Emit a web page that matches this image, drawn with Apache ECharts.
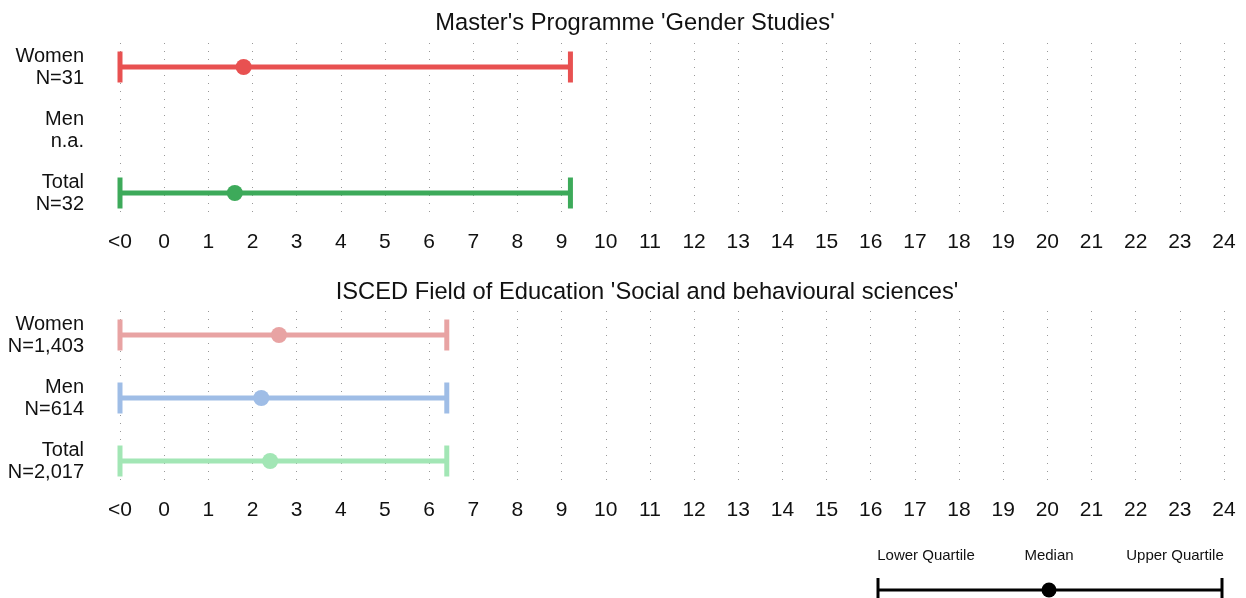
<!DOCTYPE html>
<html>
<head>
<meta charset="utf-8">
<script src="https://cdn.jsdelivr.net/npm/echarts@6/dist/echarts.min.js"></script>
<style>
html,body{margin:0;padding:0;background:#fff;}
#chart{width:1246px;height:598px;}
</style>
</head>
<body>
<div id="chart"></div>
<script>
// ---- data ----
const categories = ['Women', 'Men', 'Total'];
const xTickValues = [-1,0,1,2,3,4,5,6,7,8,9,10,11,12,13,14,15,16,17,18,19,20,21,22,23,24];
const xTickLabels = ['<0','0','1','2','3','4','5','6','7','8','9','10','11','12','13','14','15','16','17','18','19','20','21','22','23','24'];

const panel1Title = "Master's Programme 'Gender Studies'";
const panel1N = ['N=31', 'n.a.', 'N=32'];
const panel1Lower = [-1, null, -1];
const panel1Median = [1.8, null, 1.6];
const panel1Upper = [9.2, null, 9.2];
const panel1Colors = ['#E85151', '#9DBDE6', '#3DAA5A'];

const panel2Title = "ISCED Field of Education 'Social and behavioural sciences'";
const panel2N = ['N=1,403', 'N=614', 'N=2,017'];
const panel2Lower = [-1, -1, -1];
const panel2Median = [2.6, 2.2, 2.4];
const panel2Upper = [6.4, 6.4, 6.4];
const panel2Colors = ['#E8A3A3', '#9FBDE6', '#A2E6B5'];

const legendLabels = ['Lower Quartile', 'Median', 'Upper Quartile'];
// ----------------

const FONT = '"Liberation Sans", Arial, Helvetica, sans-serif';
const chart = echarts.init(document.getElementById('chart'));

const L = 120, R = 22;
const panelOffset = 268;

function buildData(lower, median, upper) {
  const out = [];
  for (let i = 0; i < categories.length; i++) {
    if (lower[i] == null || median[i] == null || upper[i] == null) continue;
    out.push([i, lower[i], median[i], upper[i]]);
  }
  return out;
}

function renderFactory(colors) {
  return function (params, api) {
    const idx = api.value(0);
    const lo = api.coord([api.value(1), idx]);
    const md = api.coord([api.value(2), idx]);
    const hi = api.coord([api.value(3), idx]);
    const col = colors[idx];
    const h = 15.5;
    return {
      type: 'group',
      children: [
        { type: 'line', shape: { x1: lo[0], y1: lo[1], x2: hi[0], y2: hi[1] }, style: { stroke: col, lineWidth: 5 } },
        { type: 'line', shape: { x1: lo[0], y1: lo[1] - h, x2: lo[0], y2: lo[1] + h }, style: { stroke: col, lineWidth: 5 } },
        { type: 'line', shape: { x1: hi[0], y1: hi[1] - h, x2: hi[0], y2: hi[1] + h }, style: { stroke: col, lineWidth: 5 } },
        { type: 'circle', shape: { cx: md[0], cy: md[1], r: 8 }, style: { fill: col } }
      ]
    };
  };
}

const grids = [], xAxes = [], yAxes = [], series = [];

function addPanel(p, nLabels, lower, median, upper, colors) {
  const off = p * panelOffset;
  grids.push({ left: L, right: R, top: 35.5 + off, height: 189 });
  grids.push({ left: L, right: R, top: 43 + off, height: 173 });
  const gData = grids.length - 2, gLines = grids.length - 1;

  xAxes.push({ gridIndex: gData, type: 'value', min: -1, max: 24, show: false });
  xAxes.push({
    gridIndex: gLines, type: 'value', min: -1, max: 24, interval: 1,
    axisLine: { show: false }, axisTick: { show: false },
    splitLine: { show: true, lineStyle: { color: '#999999', width: 1, type: [1, 7] } },
    axisLabel: {
      margin: 16, fontSize: 21, color: '#111', fontFamily: FONT,
      formatter: function (v) { const i = xTickValues.indexOf(v); return i >= 0 ? xTickLabels[i] : ''; }
    }
  });
  yAxes.push({
    gridIndex: gData, type: 'category', data: categories, inverse: true,
    axisLine: { show: false }, axisTick: { show: false }, splitLine: { show: false },
    axisLabel: {
      margin: 36, fontSize: 20, lineHeight: 22, color: '#111', fontFamily: FONT, align: 'right',
      formatter: function (v, i) { return v + '\n' + nLabels[i]; }
    }
  });
  yAxes.push({ gridIndex: gLines, type: 'value', show: false, min: 0, max: 1 });

  series.push({
    type: 'custom',
    xAxisIndex: xAxes.length - 2,
    yAxisIndex: yAxes.length - 2,
    renderItem: renderFactory(colors),
    encode: { x: [1, 2, 3], y: 0 },
    data: buildData(lower, median, upper),
    silent: true
  });
}

addPanel(0, panel1N, panel1Lower, panel1Median, panel1Upper, panel1Colors);
addPanel(1, panel2N, panel2Lower, panel2Median, panel2Upper, panel2Colors);

const legY = 590;
const legX = [878, 1049, 1222];

chart.setOption({
  animation: false,
  backgroundColor: '#fff',
  title: [
    { text: panel1Title, left: 630, top: 6, textAlign: 'center',
      textStyle: { fontSize: 23.7, fontWeight: 'normal', color: '#111', fontFamily: FONT } },
    { text: panel2Title, left: 642, top: 275, textAlign: 'center',
      textStyle: { fontSize: 23.7, fontWeight: 'normal', color: '#111', fontFamily: FONT } }
  ],
  grid: grids,
  xAxis: xAxes,
  yAxis: yAxes,
  series: series,
  graphic: [
    { type: 'line', shape: { x1: legX[0], y1: legY, x2: legX[2], y2: legY }, style: { stroke: '#000', lineWidth: 3 } },
    { type: 'line', shape: { x1: legX[0], y1: legY - 12, x2: legX[0], y2: legY + 12 }, style: { stroke: '#000', lineWidth: 3 } },
    { type: 'line', shape: { x1: legX[2], y1: legY - 12, x2: legX[2], y2: legY + 12 }, style: { stroke: '#000', lineWidth: 3 } },
    { type: 'circle', shape: { cx: legX[1], cy: legY, r: 7.5 }, style: { fill: '#000' } },
    { type: 'text', x: 926, y: 556, style: { text: legendLabels[0], fontSize: 15, fontFamily: FONT, fill: '#111', align: 'center', verticalAlign: 'middle' } },
    { type: 'text', x: 1049, y: 556, style: { text: legendLabels[1], fontSize: 15, fontFamily: FONT, fill: '#111', align: 'center', verticalAlign: 'middle' } },
    { type: 'text', x: 1175, y: 556, style: { text: legendLabels[2], fontSize: 15, fontFamily: FONT, fill: '#111', align: 'center', verticalAlign: 'middle' } }
  ]
});
</script>
</body>
</html>
